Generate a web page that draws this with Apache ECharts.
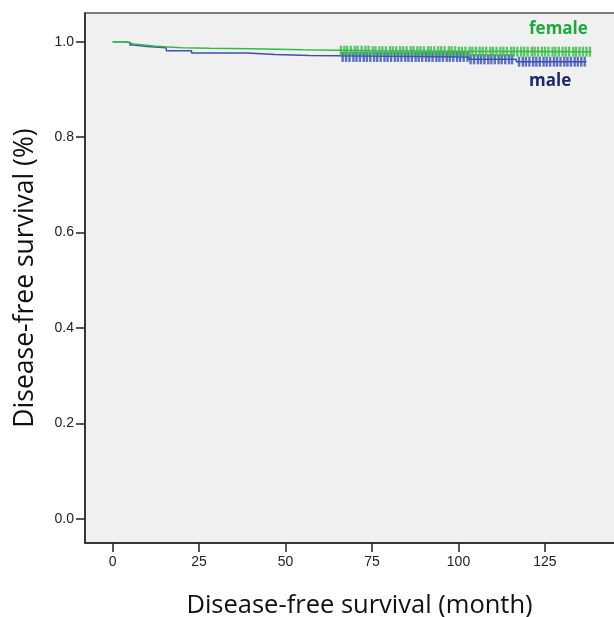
<!DOCTYPE html>
<html><head><meta charset="utf-8">
<script src="https://cdn.jsdelivr.net/npm/echarts@6/dist/echarts.min.js"></script>
<style>html,body{margin:0;padding:0;background:#fff}#c{width:614px;height:617px}</style>
</head><body><div id="c"></div>
<script>
// Kaplan-Meier step data (time in months, survival proportion)
const femaleTime = [0, 3, 5, 6, 9, 12, 16, 20, 28, 40, 55, 75, 100, 138.4];
const femaleSurv = [1.0, 0.998, 0.995, 0.993, 0.991, 0.989, 0.987, 0.986, 0.985, 0.983, 0.981, 0.980, 0.979, 0.979];
const maleTime = [0, 3, 5, 6, 10, 15.5, 22.8, 38.7, 47, 57, 103, 116.7, 137];
const maleSurv = [1.0, 0.998, 0.993, 0.990, 0.987, 0.981, 0.976, 0.973, 0.971, 0.968, 0.963, 0.958, 0.958];
// censoring times
const femaleCensor = [66, 67, 67.8, 68.9, 70, 70.8, 72, 73.1, 74, 75.2, 76, 77.1, 78, 79, 80.2, 81, 82, 83.1, 84, 85, 86.2, 87, 88.1, 89, 90, 91.2, 92, 93, 94.1, 95, 96, 97.2, 98, 99, 100.1, 101, 102, 103.2, 104, 105, 106.1, 107, 108, 109.2, 110, 111, 112.1, 113, 114, 115.2, 116, 117, 118.1, 119, 120, 121.2, 122, 123, 124.1, 125, 126, 127.2, 128, 129, 130.1, 131, 132, 133.2, 134, 135, 136, 137, 138];
const maleCensor = [66.5, 67.5, 68.5, 69.6, 70.5, 71.5, 72.6, 73.5, 74.5, 75.6, 76.5, 77.5, 78.6, 79.5, 80.5, 81.6, 82.5, 83.5, 84.6, 85.5, 86.5, 87.6, 88.5, 89.5, 90.6, 91.5, 92.5, 93.6, 94.5, 95.5, 96.6, 97.5, 98.5, 99.6, 100.5, 101.5, 102.6, 103.5, 104.5, 105.6, 106.5, 107.5, 108.6, 109.5, 110.5, 111.6, 112.5, 113.5, 114.6, 115.5, 117.5, 118.6, 119.5, 120.5, 121.6, 122.5, 123.5, 124.6, 125.5, 126.5, 127.6, 128.5, 129.5, 130.6, 131.5, 132.5, 133.6, 134.5, 135.5, 136.5];
const xTicks = [0, 25, 50, 75, 100, 125];
const yTicks = [0, 0.2, 0.4, 0.6, 0.8, 1.0];

function survAt(times, surv, t) {
  let v = surv[0];
  for (let i = 0; i < times.length; i++) { if (times[i] <= t) v = surv[i]; }
  return v;
}
const femaleLine = femaleTime.map((t, i) => [t, femaleSurv[i]]);
const maleLine = maleTime.map((t, i) => [t, maleSurv[i]]);
const femaleMarks = femaleCensor.map(t => [t, survAt(femaleTime, femaleSurv, t)]);
const maleMarks = maleCensor.map(t => [t, survAt(maleTime, maleSurv, t)]);

const GREEN = '#35bb45', BLUE = '#3b4fb8';
const chart = echarts.init(document.getElementById('c'));
chart.setOption({
  backgroundColor: '#ffffff',
  animation: false,
  grid: { left: 85, top: 13, right: -6, bottom: 74, outerBoundsMode: 'none', containLabel: false, show: true, backgroundColor: '#f0f0f0', borderColor: '#555', borderWidth: 1.5 },
  xAxis: {
    type: 'value', min: -8, max: 146.7,
    axisLine: { show: true, onZero: false, lineStyle: { color: '#222', width: 1.5 } },
    axisTick: { show: true, customValues: xTicks, length: 9, lineStyle: { color: '#222', width: 1.5 } },
    axisLabel: { customValues: xTicks, color: '#222', fontSize: 14, fontFamily: 'Liberation Sans, Arial', margin: 12 },
    splitLine: { show: false },
    name: 'Disease-free survival (month)', nameLocation: 'middle', nameGap: 50,
    nameTextStyle: { fontSize: 25.5, color: '#111', fontFamily: 'Open Sans', padding: [0, 0, 0, 14] }
  },
  yAxis: {
    type: 'value', min: -0.05, max: 1.06,
    axisLine: { show: true, onZero: false, lineStyle: { color: '#222', width: 1.5 } },
    axisTick: { show: true, customValues: yTicks, length: 9, lineStyle: { color: '#222', width: 1.5 } },
    axisLabel: { customValues: yTicks, color: '#222', fontSize: 14, fontFamily: 'Liberation Sans, Arial', margin: 11, formatter: v => v.toFixed(1) },
    splitLine: { show: false },
    name: 'Disease-free survival (%)', nameLocation: 'middle', nameGap: 46, nameRotate: 90,
    nameTextStyle: { fontSize: 26.5, color: '#111', fontFamily: 'Open Sans' }
  },
  series: [
    { type: 'line', step: 'end', data: maleLine, symbol: 'none', lineStyle: { color: BLUE, width: 1.5 }, z: 2 },
    { type: 'line', step: 'end', data: femaleLine, symbol: 'none', lineStyle: { color: GREEN, width: 1.5 }, z: 3 },
    { type: 'scatter', data: maleMarks, symbol: 'rect', symbolSize: [2.4, 10], itemStyle: { color: BLUE }, z: 2 },
    { type: 'scatter', data: femaleMarks, symbol: 'rect', symbolSize: [2.4, 10], itemStyle: { color: GREEN }, z: 3 }
  ],
  graphic: [
    { type: 'text', left: 529, top: 21, style: { text: 'female', fontSize: 17, fontWeight: 'bold', fontFamily: 'Open Sans', fill: '#1fa83c' } },
    { type: 'text', left: 529, top: 73, style: { text: 'male', fontSize: 17, fontWeight: 'bold', fontFamily: 'Open Sans', fill: '#1b2a6b' } }
  ]
});
</script></body></html>
